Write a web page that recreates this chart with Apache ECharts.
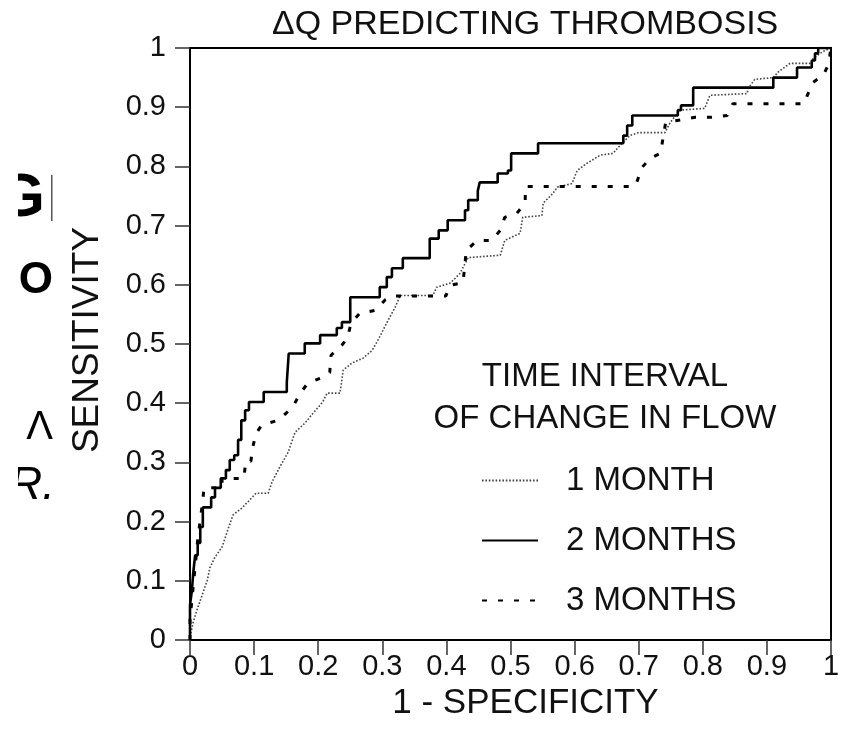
<!DOCTYPE html>
<html>
<head>
<meta charset="utf-8">
<title>ΔQ predicting thrombosis – ROC curves</title>
<script src="https://cdn.jsdelivr.net/npm/echarts@6/dist/echarts.min.js"></script>
<style>
  html, body { margin: 0; padding: 0; background: #fff; }
  #chart { width: 844px; height: 731px; }
</style>
</head>
<body>
<div id="chart"></div>
<script>
// ROC curves of the change in access flow (ΔQ) for three time intervals.
// Each curve is a list of vertices: false-positive rate (1 - specificity)
// and true-positive rate (sensitivity).

const seriesNames = ['1 MONTH', '2 MONTHS', '3 MONTHS'];

const tickLabels = ['0', '0.1', '0.2', '0.3', '0.4', '0.5', '0.6', '0.7', '0.8', '0.9', '1'];

// 1 month
const fpr1 = [0, 0, .005, .011, .019, .027, .031, .039, .050, .059, .067, .081, .090, .103, .122, .128,
  .140, .153, .164, .179, .192, .207, .214, .234, .239, .253, .270, .284, .293, .309, .320, .328,
  .379, .385, .406, .421, .434, .484, .491, .515, .519, .549, .551, .566, .573, .596, .604, .619,
  .640, .660, .668, .686, .699, .741, .749, .764, .803, .811, .869, .871, .881, .910, .917, .936,
  .970, .972, .983, .991, 1];
const tpr1 = [0, .005, .030, .051, .076, .101, .122, .140, .157, .186, .211, .223, .233, .248, .248, .267,
  .292, .317, .351, .366, .383, .402, .417, .417, .456, .468, .476, .489, .506, .540, .562, .582,
  .582, .596, .603, .619, .646, .650, .675, .687, .714, .717, .738, .754, .765, .771, .793, .805,
  .819, .822, .832, .852, .857, .857, .874, .895, .898, .920, .923, .932, .947, .950, .959, .974,
  .974, .982, .991, .996, 1];

// 2 months
const fpr2 = [0, 0, .003, .005, .008, .008, .012, .012, .016, .016, .020, .020, .033, .033, .039, .039,
  .048, .048, .056, .056, .062, .062, .069, .069, .075, .075, .080, .080, .086, .086, .092, .092,
  .115, .115, .151, .151, .154, .154, .179, .179, .203, .203, .229, .229, .237, .237, .250, .250,
  .296, .296, .307, .307, .315, .315, .332, .332, .374, .374, .388, .388, .402, .402, .429, .429,
  .434, .434, .449, .449, .452, .452, .480, .480, .496, .496, .501, .501, .543, .543, .676, .676,
  .682, .682, .690, .690, .761, .761, .766, .766, .785, .785, .910, .910, .947, .947, .970, .970,
  .975, .975, .980, .980, 1];
const tpr2 = [0, .059, .084, .113, .113, .143, .143, .164, .164, .191, .191, .224, .224, .241, .241, .257,
  .257, .273, .273, .287, .287, .304, .304, .312, .312, .338, .338, .371, .371, .388, .388, .402,
  .402, .419, .419, .435, .435, .484, .484, .501, .501, .515, .515, .527, .527, .537, .537, .579,
  .579, .596, .596, .613, .613, .628, .628, .645, .645, .678, .678, .692, .692, .709, .709, .726,
  .726, .743, .743, .759, .759, .773, .773, .788, .788, .793, .793, .822, .822, .839, .839, .852,
  .852, .869, .869, .886, .886, .895, .895, .903, .903, .933, .933, .950, .950, .967, .967, .979,
  .979, .991, .991, 1, 1];

// 3 months
const fpr3 = [0, 0, .003, .006, .009, .012, .016, .019, .022, .050, .050, .084, .087, .095, .098, .103,
  .112, .137, .150, .162, .172, .184, .203, .218, .220, .237, .246, .251, .265, .290, .304, .317,
  .399, .406, .426, .431, .448, .471, .484, .491, .510, .523, .523, .693, .697, .705, .718, .734,
  .742, .788, .814, .838, .847, .958, .963, .972, .988, .995, .998, 1];
const tpr3 = [0, .034, .068, .101, .135, .169, .203, .228, .257, .257, .273, .273, .302, .302, .326, .349,
  .363, .371, .383, .397, .417, .434, .442, .452, .481, .498, .511, .535, .552, .557, .574, .581,
  .581, .599, .604, .658, .675, .675, .692, .714, .721, .738, .766, .766, .773, .798, .814, .822,
  .874, .883, .883, .886, .906, .906, .920, .942, .954, .970, .987, 1];

function pairs(xs, ys) {
  return xs.map(function (x, i) { return [x, ys[i]]; });
}

const FONT = 'Liberation Sans, Arial, Helvetica, sans-serif';
const INK = '#111';

const chart = echarts.init(document.getElementById('chart'), null, { renderer: 'canvas' });

const axisCommon = {
  type: 'value',
  min: 0,
  max: 1,
  interval: 0.1,
  splitLine: { show: false },
  axisLine: { show: true, lineStyle: { color: '#000', width: 2 } },
  axisTick: { show: true, inside: false, length: 15, lineStyle: { color: '#333', width: 1.5 } },
  axisLabel: {
    color: INK,
    fontFamily: FONT,
    fontSize: 29,
    formatter: function (v) { return tickLabels[Math.round(v * 10)]; }
  },
  nameLocation: 'middle'
};

chart.setOption({
  animation: false,
  backgroundColor: '#fff',
  title: {
    text: 'ΔQ PREDICTING THROMBOSIS',
    left: 267,
    top: 3,
    textStyle: { color: INK, fontFamily: FONT, fontSize: 34, fontWeight: 'normal' }
  },
  grid: {
    left: 190, right: 13, top: 48, bottom: 91,
    show: true, borderColor: '#000', borderWidth: 2
  },
  xAxis: Object.assign({}, axisCommon, {
    name: '1 - SPECIFICITY',
    nameGap: 44,
    nameTextStyle: { color: INK, fontFamily: FONT, fontSize: 35, padding: [0, 0, 0, 30] },
    axisLabel: Object.assign({}, axisCommon.axisLabel, { margin: 12 })
  }),
  yAxis: Object.assign({}, axisCommon, {
    name: 'SENSITIVITY',
    nameGap: 84,
    nameTextStyle: { color: INK, fontFamily: FONT, fontSize: 37, padding: [0, 0, 0, 8] },
    axisLabel: Object.assign({}, axisCommon.axisLabel, { margin: 24 })
  }),
  legend: {
    data: seriesNames,
    orient: 'vertical',
    left: 476,
    top: 459,
    itemWidth: 56,
    itemHeight: 14,
    itemGap: 27,
    selectedMode: false,
    itemStyle: { color: 'rgba(0,0,0,0)', borderWidth: 0, opacity: 0 },
    textStyle: { color: INK, fontFamily: FONT, fontSize: 33, lineHeight: 33, padding: [0, 0, 0, 23] }
  },
  graphic: [
    { type: 'text', x: 605, y: 377,
      style: { text: 'TIME INTERVAL', fill: INK, font: '33px ' + FONT, textAlign: 'center', textVerticalAlign: 'middle' } },
    { type: 'text', x: 605, y: 419,
      style: { text: 'OF CHANGE IN FLOW', fill: INK, font: '33px ' + FONT, textAlign: 'center', textVerticalAlign: 'middle' } },
    // letters of the neighbouring panel, cut off at the left margin
    { type: 'text', x: 45, y: 199,
      style: { text: 'G', fill: '#000', font: 'bold 62px ' + FONT, textAlign: 'right', textVerticalAlign: 'middle' } },
    { type: 'rect', shape: { x: 51, y: 175, width: 1.5, height: 46 }, style: { fill: '#555' } },
    { type: 'text', x: 53, y: 281,
      style: { text: 'O', fill: '#000', font: 'bold 44px ' + FONT, textAlign: 'right', textVerticalAlign: 'middle' } },
    { type: 'text', x: 53, y: 428,
      style: { text: 'Λ', fill: '#000', font: '40px ' + FONT, textAlign: 'right', textVerticalAlign: 'middle' } },
    { type: 'text', x: 55, y: 486,
      style: { text: 'R.', fill: '#000', font: 'italic 46px ' + FONT, textAlign: 'right', textVerticalAlign: 'middle' } },
    { type: 'rect', shape: { x: 0, y: 150, width: 18, height: 380 }, style: { fill: '#fff' } }
  ],
  series: [
    {
      name: seriesNames[0], type: 'line', symbol: 'none', z: 2,
      data: pairs(fpr1, tpr1),
      lineStyle: { color: '#444', width: 1.6, type: [1.6, 1.8] },
      itemStyle: { color: '#444' }
    },
    {
      name: seriesNames[1], type: 'line', symbol: 'none', z: 4,
      data: pairs(fpr2, tpr2),
      lineStyle: { color: '#000', width: 2.6, type: 'solid' },
      itemStyle: { color: '#000' }
    },
    {
      name: seriesNames[2], type: 'line', symbol: 'none', z: 3,
      data: pairs(fpr3, tpr3),
      lineStyle: { color: '#000', width: 3, type: [5, 11] },
      itemStyle: { color: '#000' }
    }
  ]
});
</script>
</body>
</html>
